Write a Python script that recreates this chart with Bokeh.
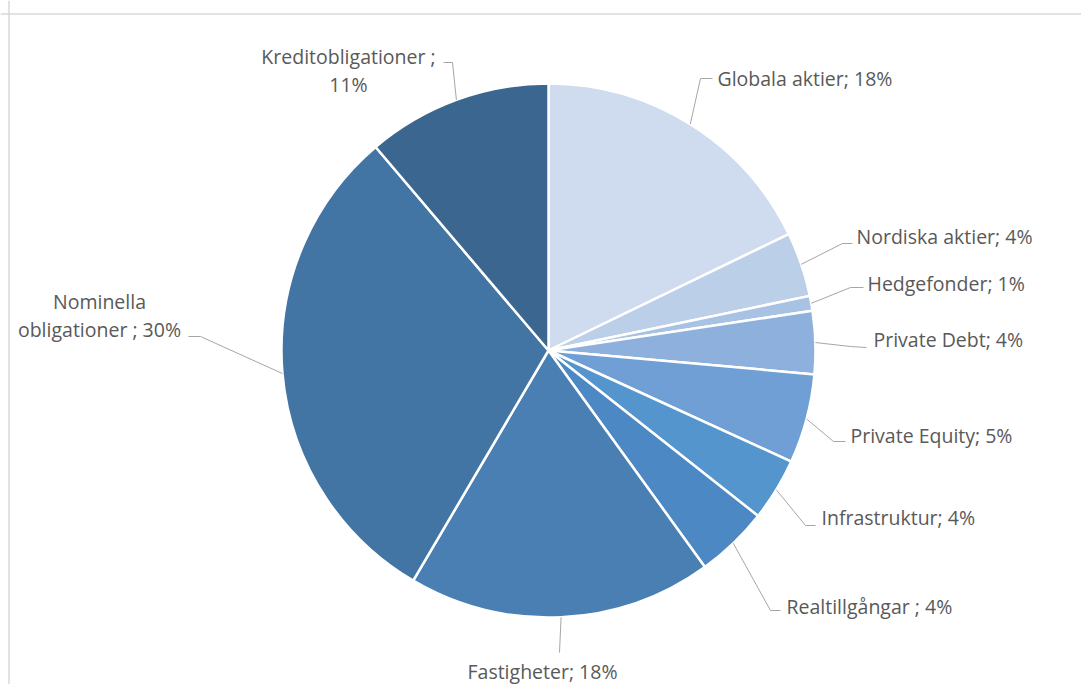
import math
from bokeh.plotting import figure
from bokeh.models import Range1d, Span, ColumnDataSource
from bokeh.core.properties import value
from bokeh.embed import file_html
from bokeh.resources import INLINE

# ---- data ----
categories = ["Globala aktier", "Nordiska aktier", "Hedgefonder", "Private Debt",
              "Private Equity", "Infrastruktur", "Realtillgångar ", "Fastigheter",
              "Nominella obligationer ", "Kreditobligationer "]
shares = [17.8, 3.9, 0.9, 3.8, 5.4, 3.8, 4.4, 18.4, 30.3, 11.2]
colors = ["#CFDBEE", "#BCCFE9", "#A8C2E4", "#8DB0DD", "#6F9FD5",
          "#5495CD", "#4C88C3", "#4A7FB3", "#4274A4", "#3A6690"]

# ---- layout (screen-like coordinates, y downward) ----
CX, CY, R = 548, 350, 267
label_pos = [(717, 78, "left"), (856, 236, "left"), (867, 283, "left"),
             (873, 339, "left"), (850, 435, "left"), (821, 517, "left"),
             (786, 606, "left"), (542, 671, "center"), (99, 315, "center"),
             (348, 70, "center")]
leader_pts = [[(700, 78), (712, 78)], [(842, 243), (852, 243)], [(850, 287), (863, 287)],
              [(850, 346), (866, 347)], [(833, 441), (845, 441)], [(805, 525), (815, 525)],
              [(770, 610), (780, 610)], [(559, 652)], [(200, 336), (188, 336)],
              [(452, 62), (443, 62)]]
line_breaks = {8: "Nominella\nobligationer ; 30%", 9: "Kreditobligationer ;\n11%"}

total = sum(shares)
starts, ends, mids = [], [], []
cum = 0.0
for s in shares:
    a0 = math.pi / 2 - 2 * math.pi * cum / total
    cum += s
    a1 = math.pi / 2 - 2 * math.pi * cum / total
    starts.append(a1)
    ends.append(a0)
    mids.append((a0 + a1) / 2)

W, H = 1081, 684
p = figure(width=W, height=H, output_backend="svg", toolbar_location=None,
           x_range=Range1d(0, W), y_range=Range1d(-H, 0),
           min_border=0, min_border_left=0, min_border_right=0,
           min_border_top=0, min_border_bottom=0)
p.axis.visible = False
p.grid.visible = False
p.outline_line_color = None
p.background_fill_color = "white"
p.border_fill_color = "white"

# chart-area frame (top and left edges visible in the reference)
p.add_layout(Span(location=-13.5, dimension="width", line_color="#D9D9D9", line_width=1.5))
p.add_layout(Span(location=8.5, dimension="height", line_color="#D9D9D9", line_width=1.5))

src = ColumnDataSource(dict(start=starts, end=ends, color=colors))
p.wedge(x=CX, y=-CY, radius=R, start_angle="start", end_angle="end",
        direction="anticlock", fill_color="color", line_color="white",
        line_width=2.5, source=src)

# leader lines
for i, m in enumerate(mids):
    sx = CX + R * math.cos(m)
    sy = CY - R * math.sin(m)
    xs = [sx] + [q[0] for q in leader_pts[i]]
    ys = [-sy] + [-q[1] for q in leader_pts[i]]
    p.line(xs, ys, line_color="#A6A6A6", line_width=1)

# labels
for i, name in enumerate(categories):
    pct = round(shares[i] / total * 100)
    txt = line_breaks.get(i, f"{name}; {pct}%")
    x, y, al = label_pos[i]
    p.text(x=[x], y=[-y], text=[txt], text_align=al, text_baseline="middle",
           text_font=value("Open Sans"), text_font_size="19.5px", text_color="#595959",
           text_line_height=1.02)

open("out.html", "w").write(file_html(p, INLINE))
